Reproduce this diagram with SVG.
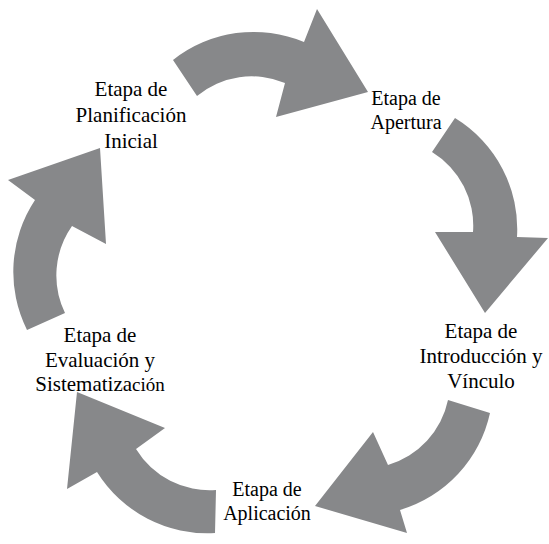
<svg xmlns="http://www.w3.org/2000/svg" width="549" height="544" viewBox="0 0 549 544">
<style>
.arrow{fill:#87888a;stroke:none}
.lbl{font-family:"Liberation Serif","Times New Roman",serif;font-size:21px;fill:#000;text-anchor:middle}
.sm{font-size:20px}
</style>
<rect width="549" height="544" fill="#fff"/>
<g id="connectors">
<path class="arrow" d="M173,60 A130,130 0 0 1 304,42 L317,9 L368,92 L276,117 L285,83 A86,86 0 0 0 197,96 Z"/>
<path class="arrow" d="M455,118 A130,130 0 0 1 517,237 L548,238 L485,313 L435,232 L473,232 A86,86 0 0 0 432,152 Z"/>
<path class="arrow" d="M490,413 A130,130 0 0 1 400,510 L407,533 L315,506 L373,432 L388,465 A86,86 0 0 0 448,400 Z"/>
<path class="arrow" d="M215,533 A130,130 0 0 1 97,472 L67,489 L77,392 L165,428 L136,449 A86,86 0 0 0 216,490 Z"/>
<path class="arrow" d="M27,330 A130,130 0 0 1 35,200 L8,180 L100,148 L106,244 L72,226 A86,86 0 0 0 65,313 Z"/>
</g>
<g id="node-planificacion">
<text class="lbl" x="131" y="96">Etapa de</text>
<text class="lbl" x="131" y="122">Planificación</text>
<text class="lbl" x="131" y="148">Inicial</text>
</g>
<g id="node-apertura">
<text class="lbl sm" x="406" y="105">Etapa de</text>
<text class="lbl sm" x="406" y="129">Apertura</text>
</g>
<g id="node-introduccion">
<text class="lbl" x="481" y="338">Etapa de</text>
<text class="lbl" x="481" y="363">Introducción y</text>
<text class="lbl" x="481" y="388">Vínculo</text>
</g>
<g id="node-aplicacion">
<text class="lbl sm" x="267" y="496">Etapa de</text>
<text class="lbl sm" x="267" y="520">Aplicación</text>
</g>
<g id="node-evaluacion">
<text class="lbl" x="100" y="342">Etapa de</text>
<text class="lbl" x="100" y="367">Evaluación y</text>
<text class="lbl" x="100" y="391">Sistematiza<tspan font-size="19">ción</tspan></text>
</g>
</svg>
